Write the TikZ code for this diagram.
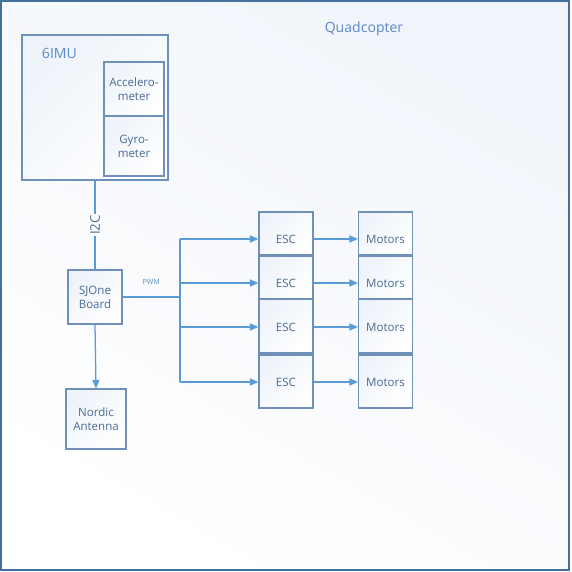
\documentclass[tikz,border=0pt]{standalone}
\usepackage{fontspec}
\setmainfont{Open Sans}
\usetikzlibrary{arrows.meta}
\definecolor{frameline}{HTML}{41719C}
\definecolor{boxline}{HTML}{6F90B8}
\definecolor{wirecol}{HTML}{5B9BD5}
\definecolor{labeltext}{HTML}{5A8AC6}
\definecolor{boxtext}{HTML}{4A6C94}
\definecolor{boxfill}{HTML}{EEF3FA}
\definecolor{framefill}{HTML}{F1F5FB}

\begin{document}
\begin{tikzpicture}[x=0.025cm, y=-0.025cm, >={Triangle[length=6pt,width=5pt]},
        every node/.style={font=\fontsize{8.2}{10}\selectfont, text=boxtext},
        blk/.style={draw=boxline, line width=0.8pt, top color=boxfill, bottom color=white,
                shading angle=45, align=center, inner sep=1pt},
        link/.style={draw=wirecol, line width=0.9pt},
        title/.style={text=labeltext, font=\fontsize{10}{12}\selectfont}]
        \useasboundingbox (0,0) rectangle (572,572);
        \draw[frameline, line width=0.8pt, top color=framefill, bottom color=white, shading angle=-30]
                (1,1) rectangle (569,570);
        \node[title] (quad) at (364,29) {Quadcopter};

        \node[blk, minimum width=3.65cm, minimum height=3.625cm] (imu) at (95,107.5) {};
        \node[title, anchor=west] (imulbl) at (37,53) {6IMU};
        \node[blk, minimum width=1.5cm, minimum height=1.35cm] (acc) at (134,89) {Accelero-\\meter};
        \node[blk, minimum width=1.5cm, minimum height=1.5cm] (gyro) at (134,146) {Gyro-\\meter};

        \node[blk, minimum width=1.35cm, minimum height=1.35cm] (sj) at (95,297) {SJOne\\Board};
        \node[blk, minimum width=1.5cm, minimum height=1.5cm] (nordic) at (96,419) {Nordic\\Antenna};

        \foreach \i/\yc/\h/\ya in {1/233.5/1.075/239, 2/277.5/1.075/283, 3/326/1.35/327, 4/381.5/1.325/382} {
                \pgfmathsetmacro\th{5.8+2*0.7114*(\ya-\yc)}
                \node[blk, minimum width=1.35cm, minimum height=\h cm, text height=\th pt, text depth=0pt]
                        (esc\i) at (286,\yc) {ESC};
                \node[blk, minimum width=1.35cm, minimum height=\h cm, text height=\th pt, text depth=0pt]
                        (mot\i) at (385.5,\yc) {Motors};
                \coordinate (bus\i) at (180,\ya);
            }

        \draw[link] (imu.south) -- node[fill=white, rotate=90, inner sep=1pt,
                font=\fontsize{9.5}{11}\selectfont] (i2c) {I2C} (sj.north);
        \draw[link,->] (sj.south) -- (nordic.north);
        \draw[link] (sj.east) -- node[above=5pt, font=\fontsize{5}{6}\selectfont, text=labeltext] (pwm) {PWM} (sj.east -| bus1);
        \draw[link] (bus1) -- (bus4);
        \foreach \i in {1,2,3,4} {
                \draw[link,->] (bus\i) -- (bus\i -| esc\i.west);
                \draw[link,->] (bus\i -| esc\i.east) -- (bus\i -| mot\i.west);
            }
    \end{tikzpicture}
\end{document}
